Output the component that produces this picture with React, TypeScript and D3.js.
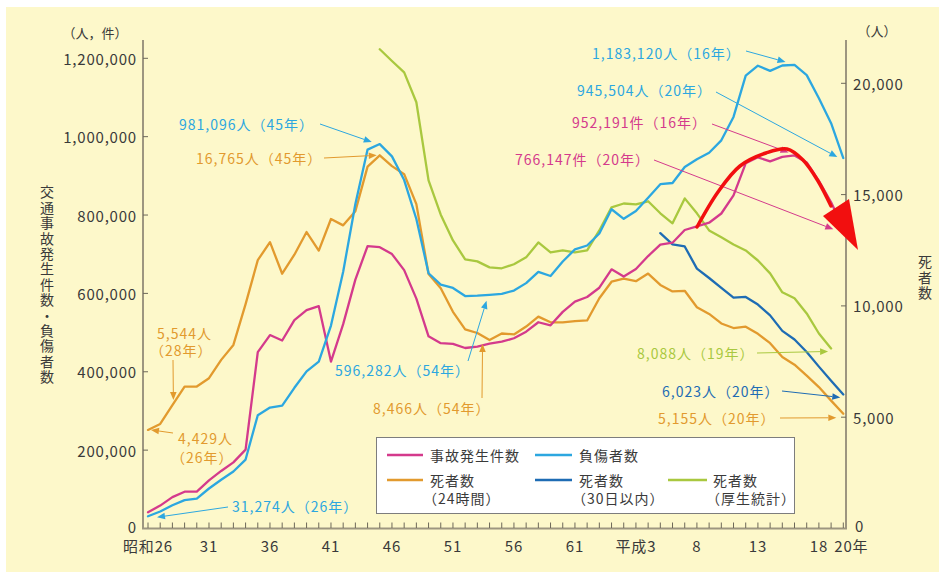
import React from 'react';
import * as d3 from 'd3';

// 年（昭和26年〜平成20年）
const years = [
  1951, 1952, 1953, 1954, 1955, 1956, 1957, 1958, 1959, 1960,
  1961, 1962, 1963, 1964, 1965, 1966, 1967, 1968, 1969, 1970,
  1971, 1972, 1973, 1974, 1975, 1976, 1977, 1978, 1979, 1980,
  1981, 1982, 1983, 1984, 1985, 1986, 1987, 1988, 1989, 1990,
  1991, 1992, 1993, 1994, 1995, 1996, 1997, 1998, 1999, 2000,
  2001, 2002, 2003, 2004, 2005, 2006, 2007, 2008,
];
// 事故発生件数（左軸）
const accidents = [
  41423, 58487, 80019, 93869, 93981, 122691, 146833, 168799, 201292, 449917,
  493693, 479825, 531966, 557183, 567286, 425944, 521481, 635056, 720880, 718080,
  700290, 659283, 586713, 490452, 472938, 471041, 460649, 464037, 471573, 476677,
  485578, 502261, 526362, 518642, 552788, 579190, 590723, 614481, 661363, 643097,
  662392, 695345, 724675, 729461, 761794, 771085, 780401, 803878, 850371, 931950,
  947253, 936950, 948281, 952191, 934339, 887267, 832704, 766147,
];
// 負傷者数（左軸）
const injured = [
  31274, 43321, 59280, 72390, 76501, 102072, 124530, 145432, 175951, 289156,
  308697, 313813, 359089, 401117, 425666, 517775, 655377, 828071, 967000, 981096,
  949689, 889198, 789948, 651420, 622467, 613957, 593211, 594116, 596282, 598719,
  607346, 626192, 654822, 644321, 681346, 712330, 722179, 752845, 814832, 790295,
  810245, 844003, 878633, 881723, 922677, 942204, 958925, 990675, 1050399, 1155697,
  1181039, 1168029, 1181681, 1183120, 1157113, 1098199, 1034445, 945504,
];
// 死者数（24時間）（右軸）
const deaths24 = [
  4429, 4696, 5544, 6374, 6379, 6751, 7575, 8248, 10079, 12055,
  12865, 11445, 12301, 13318, 12484, 13904, 13618, 14256, 16257, 16765,
  16278, 15918, 14574, 11432, 10792, 9734, 8945, 8783, 8466, 8760,
  8719, 9073, 9520, 9262, 9261, 9317, 9347, 10344, 11086, 11227,
  11109, 11452, 10942, 10649, 10679, 9942, 9640, 9211, 9006, 9066,
  8747, 8326, 7702, 7358, 6871, 6352, 5744, 5155,
];
// 死者数（30日以内）（右軸）
const years30 = [1993, 1994, 1995, 1996, 1997, 1998, 1999, 2000, 2001, 2002, 2003, 2004, 2005, 2006, 2007, 2008];
const deaths30 = [13269, 12768, 12670, 11674, 11254, 10805, 10372, 10403, 10060, 9575, 8877, 8492, 7931, 7272, 6639, 6023];
// 死者数（厚生統計）（右軸）
const yearsVital = [
  1970, 1971, 1972, 1973, 1974, 1975, 1976, 1977, 1978, 1979,
  1980, 1981, 1982, 1983, 1984, 1985, 1986, 1987, 1988, 1989,
  1990, 1991, 1992, 1993, 1994, 1995, 1996, 1997, 1998, 1999,
  2000, 2001, 2002, 2003, 2004, 2005, 2006, 2007,
];
const deathsVital = [
  21530, 21000, 20490, 19150, 15640, 14100, 12940, 12090, 12000, 11730,
  11690, 11870, 12180, 12850, 12400, 12490, 12400, 12490, 13390, 14430,
  14600, 14560, 14700, 14160, 13710, 14830, 14160, 13390, 13080, 12760,
  12490, 12040, 11460, 10610, 10340, 9660, 8760, 8088,
];

const xTickYears = [1951, 1956, 1961, 1966, 1971, 1976, 1981, 1986, 1991, 1996, 2001, 2006];
const xTickLabels = ['昭和26', '31', '36', '41', '46', '51', '56', '61', '平成3', '8', '13', '18'];
const leftTicks = [0, 200000, 400000, 600000, 800000, 1000000, 1200000];
const rightTicks = [0, 5000, 10000, 15000, 20000];

const C = {
  bg: '#FDF8CA',
  pink: '#D43A8C',
  sky: '#2CA7E0',
  orange: '#E29A2E',
  navy: '#1E6CB4',
  lime: '#A9C83F',
  text: '#3a3a3a',
  axis: '#9d9680',
};
const FONT = "'Noto Sans CJK JP', 'Noto Sans', sans-serif";

const x = d3.scaleLinear().domain([1951, 2008]).range([148, 843.3]);
const yL = d3.scaleLinear().domain([0, 1200000]).range([528.5, 58.3]);
const yR = d3.scaleLinear().domain([0, 20000]).range([528.5, 83.3]);

const val = (arr: number[], yr: number) => arr[years.indexOf(yr)];

function Arrow({ from, to, color, head = 8, hw = 3.3 }: any) {
  const dx = to[0] - from[0], dy = to[1] - from[1];
  const len = Math.hypot(dx, dy);
  const ux = dx / len, uy = dy / len;
  const bx = to[0] - ux * head, by = to[1] - uy * head;
  const pts = [
    [to[0], to[1]],
    [bx - uy * hw, by + ux * hw],
    [bx + uy * hw, by - ux * hw],
  ];
  return (
    <g>
      <line x1={from[0]} y1={from[1]} x2={bx} y2={by} stroke={color} strokeWidth={1} />
      <polygon points={pts.map(p => p.join(',')).join(' ')} fill={color} />
    </g>
  );
}

// 2行のラベルは1つのtextにtspanでまとめる
function Label({ lines, tx, ty, fill }: any) {
  return (
    <text fill={fill} dominantBaseline="central">
      {lines.map((t: string, j: number) => (
        <tspan key={j} x={tx[j]} y={ty[j]}>{t}</tspan>
      ))}
    </text>
  );
}

const notes = [
  { lines: ['981,096人（45年）'], color: C.sky, tx: [179], ty: [124], from: [320, 124], to: [x(1970) - 8, yL(val(injured, 1970)) - 2] },
  { lines: ['16,765人（45年）'], color: C.orange, tx: [196], ty: [158], from: [324, 158], to: [x(1970) - 3, yR(val(deaths24, 1970))] },
  { lines: ['1,183,120人（16年）'], color: C.sky, tx: [592], ty: [53], from: [746, 51], to: [x(2004) - 9, yL(val(injured, 2004)) - 3] },
  { lines: ['945,504人（20年）'], color: C.sky, tx: [577], ty: [90], from: [716, 92], to: [x(2008) - 6, yL(val(injured, 2008)) - 1] },
  { lines: ['952,191件（16年）'], color: C.pink, tx: [572], ty: [122], from: [712, 124], to: [x(2004) - 6, yL(val(accidents, 2004)) - 3] },
  { lines: ['766,147件（20年）'], color: C.pink, tx: [515], ty: [159], from: [654, 160], to: [x(2008) - 10, yL(val(accidents, 2008)) + 1] },
  { lines: ['596,282人（54年）'], color: C.sky, tx: [335], ty: [370], from: [468, 361], to: [x(1979) - 3, yL(val(injured, 1979)) + 6] },
  { lines: ['8,466人（54年）'], color: C.orange, tx: [373], ty: [408], from: [482, 398], to: [x(1979) - 7, yR(val(deaths24, 1979)) + 4] },
  { lines: ['5,544人', '（28年）'], color: C.orange, tx: [157, 150], ty: [333, 350], from: [173, 360], to: [x(1953) + 1, yR(val(deaths24, 1953)) - 5] },
  { lines: ['4,429人', '（26年）'], color: C.orange, tx: [178, 171], ty: [438, 457], from: [173, 433], to: [x(1951) + 3, yR(val(deaths24, 1951))] },
  { lines: ['31,274人（26年）'], color: C.sky, tx: [232], ty: [506], from: [228, 507], to: [x(1951) + 9, yL(val(injured, 1951)) + 1] },
  { lines: ['8,088人（19年）'], color: C.lime, tx: [637], ty: [353], from: [757, 353], to: [x(2007) - 3, yR(8088) + 3] },
  { lines: ['6,023人（20年）'], color: C.navy, tx: [662], ty: [391], from: [782, 391], to: [x(2008) - 3, yR(6023) + 3] },
  { lines: ['5,155人（20年）'], color: C.orange, tx: [658], ty: [418], from: [780, 418], to: [x(2008) - 7, yR(val(deaths24, 2008)) + 4] },
];

export default function App() {
  const lineL = d3.line<number>().x((_, i) => x(years[i])).y(d => yL(d));
  const lineR = d3.line<number>().x((_, i) => x(years[i])).y(d => yR(d));
  const line30 = d3.line<number>().x((_, i) => x(years30[i])).y(d => yR(d));
  const lineV = d3.line<number>().x((_, i) => x(yearsVital[i])).y(d => yR(d));

  const series = [
    { d: lineV(deathsVital), color: C.lime },
    { d: lineR(deaths24), color: C.orange },
    { d: line30(deaths30), color: C.navy },
    { d: lineL(accidents), color: C.pink },
    { d: lineL(injured), color: C.sky },
  ];

  // 赤い強調矢印
  const redPts: [number, number][] = [[697, 227], [718, 192], [740, 166], [766, 153], [787, 149], [803, 160], [818, 181], [831, 206]];
  const redPath = d3.line().curve(d3.curveCatmullRom)(redPts);

  const yearTicks = d3.range(1951, 2009);

  return (
    <svg width={939} height={572} style={{ position: 'absolute', left: 0, top: 0, fontFamily: FONT }}>
      <rect x={0} y={0} width={939} height={572} fill="#fff" />
      <rect x={6} y={7} width={933} height={565} fill={C.bg} />

      {/* axes */}
      <g stroke={C.axis} strokeWidth={2} fill="none">
        <line x1={143} y1={40} x2={143} y2={529} />
        <line x1={846} y1={40} x2={846} y2={529} />
        <line x1={142} y1={528.5} x2={847} y2={528.5} />
      </g>
      <g stroke="#6d6859" strokeWidth={1}>
        {yearTicks.map(yr => <line key={yr} x1={x(yr)} x2={x(yr)} y1={522.5} y2={528} />)}
        {leftTicks.slice(1).map(t => <line key={t} x1={143} x2={148} y1={yL(t)} y2={yL(t)} />)}
        {rightTicks.slice(1).map(t => <line key={t} x1={841} x2={846} y1={yR(t)} y2={yR(t)} />)}
      </g>
      <g fill={C.text} fontSize={15} letterSpacing={0.8}>
        {leftTicks.map(t => (
          <text key={t} x={137} y={t === 0 ? 526 : yL(t)} textAnchor="end" dominantBaseline="central">{d3.format(',')(t)}</text>
        ))}
        {rightTicks.map(t => (
          <text key={t} x={t === 0 ? 855 : 853} y={t === 0 ? 525 : yR(t)} dominantBaseline="central">{d3.format(',')(t)}</text>
        ))}
        {xTickYears.map((yr, i) => (
          <text key={yr} x={x(yr)} y={545} textAnchor="middle" dominantBaseline="central">{xTickLabels[i]}</text>
        ))}
        <text x={x(2008) - 9} y={545} dominantBaseline="central">20年</text>
      </g>
      <g fill={C.text} fontSize={13}>
        <text x={95} y={32} textAnchor="middle" dominantBaseline="central">（人，件）</text>
        <text x={877} y={30} textAnchor="middle" dominantBaseline="central">（人）</text>
      </g>
      <g fill={C.text} fontSize={14}>
        <text x={47} y={185} style={{ writingMode: 'vertical-rl' }} letterSpacing={1.4}>交通事故発生件数・負傷者数</text>
        <text x={925} y={255} style={{ writingMode: 'vertical-rl' }} letterSpacing={1.4}>死者数</text>
      </g>

      {/* data lines */}
      <g fill="none" strokeWidth={2.3} strokeLinejoin="round" strokeLinecap="round">
        {series.map((s, i) => <path key={i} d={s.d || ''} stroke={s.color} />)}
      </g>

      {/* annotations */}
      <g fontSize={14} letterSpacing={1}>
        {notes.map((n, i) => (
          <g key={i}>
            <Label lines={n.lines} tx={n.tx} ty={n.ty} fill={n.color} />
            <Arrow from={n.from} to={n.to} color={n.color} />
          </g>
        ))}
      </g>

      {/* red emphasis arrow */}
      <path d={redPath || ''} fill="none" stroke="#F20F0F" strokeWidth={3.5} strokeLinecap="round" />
      <polygon points="823,216 849,199 858,250" fill="#F20F0F" />

      {/* legend */}
      <rect x={376.5} y={437.5} width={418} height={76} fill="#fff" stroke="#7d7d7d" strokeWidth={1} />
      <g strokeWidth={2.3}>
        <line x1={387} x2={423} y1={455} y2={455} stroke={C.pink} />
        <line x1={535} x2={572} y1={455} y2={455} stroke={C.sky} />
        <line x1={387} x2={423} y1={480} y2={480} stroke={C.orange} />
        <line x1={535} x2={572} y1={480} y2={480} stroke={C.navy} />
        <line x1={668} x2={707} y1={480} y2={480} stroke={C.lime} />
      </g>
      <g fontSize={14} letterSpacing={1}>
        <Label lines={['事故発生件数']} tx={[430]} ty={[455]} fill={C.text} />
        <Label lines={['負傷者数']} tx={[579]} ty={[455]} fill={C.text} />
        <Label lines={['死者数', '（24時間）']} tx={[430, 423]} ty={[480, 498]} fill={C.text} />
        <Label lines={['死者数', '（30日以内）']} tx={[579, 572]} ty={[480, 498]} fill={C.text} />
        <Label lines={['死者数', '（厚生統計）']} tx={[713, 706]} ty={[480, 498]} fill={C.text} />
      </g>
    </svg>
  );
}
